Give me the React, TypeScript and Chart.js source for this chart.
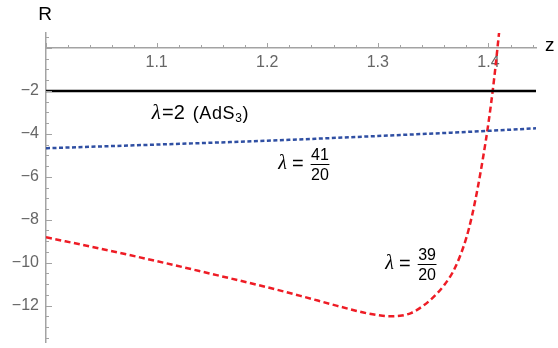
import React, { useEffect, useRef } from "react";
import { Chart, registerables } from "chart.js";
Chart.register(...registerables);

// ---- data ----
const zAdS = [1.0, 1.443];
const rAdS = [-2, -2];

const zBlue = [1.0, 1.1, 1.2, 1.3, 1.4, 1.443];
const rBlue = [-4.67, -4.5, -4.32, -4.1, -3.86, -3.74];

const zRed = [1.0, 1.05, 1.1, 1.15, 1.2, 1.23, 1.26, 1.28, 1.29, 1.3, 1.31, 1.32, 1.33, 1.34, 1.35, 1.36, 1.37, 1.38, 1.385, 1.39, 1.395, 1.4, 1.405, 1.41];
const rRed = [-8.82, -9.36, -9.93, -10.53, -11.15, -11.55, -11.97, -12.24, -12.36, -12.45, -12.5, -12.48, -12.35, -12.05, -11.62, -11.05, -10.22, -8.85, -7.85, -6.6, -5.15, -3.5, -1.5, 0.9];

const xTickValues = [1.1, 1.2, 1.3, 1.4];
const xTickLabels = ["1.1", "1.2", "1.3", "1.4"];
const yTickValues = [-12, -10, -8, -6, -4, -2];
const yTickLabels = ["\u221212", "\u221210", "\u22128", "\u22126", "\u22124", "\u22122"];

const zMin = 1.0;
const zMax = 1.443;
const rMin = -13.7;
const rMax = 0.7;

const labelAdS = { z: 1.0957, r: -3.03 };
const label41 = { z: 1.21, r: -5.41, num: "41", den: "20" };
const label39 = { z: 1.3068, r: -10.07, num: "39", den: "20" };

const toPts = (xs: number[], ys: number[]) => xs.map((x, i) => ({ x, y: ys[i] }));

const AXIS_COLOR = "#a3a3a3";
const LABEL_COLOR = "#666666";
const SANS = "'Liberation Sans', Arial, Helvetica, sans-serif";

const decorPlugin = {
  id: "decor",
  afterDraw(chart: any) {
    const { ctx, scales, chartArea } = chart;
    const xs = scales.x;
    const ys = scales.y;
    const y0 = ys.getPixelForValue(0);
    const xl = chartArea.left;
    ctx.save();
    ctx.strokeStyle = AXIS_COLOR;
    ctx.lineWidth = 1;
    // x ticks (upward)
    for (let i = 0; i <= 22; i++) {
      const v = zMin + i * 0.02;
      if (v > zMax + 1e-9) break;
      const px = Math.round(xs.getPixelForValue(v)) + 0.5;
      const len = i % 5 === 0 ? 5 : 3;
      ctx.beginPath();
      ctx.moveTo(px, y0);
      ctx.lineTo(px, y0 - len);
      ctx.stroke();
    }
    // y ticks (rightward)
    for (let k = -27; k <= 1; k++) {
      const v = k * 0.5;
      const py = Math.round(ys.getPixelForValue(v)) + 0.5;
      const len = k % 4 === 0 ? 6 : 3;
      ctx.beginPath();
      ctx.moveTo(xl, py);
      ctx.lineTo(xl + len, py);
      ctx.stroke();
    }
    // axis titles
    ctx.fillStyle = "#000";
    ctx.font = "19px " + SANS;
    ctx.textAlign = "center";
    ctx.textBaseline = "middle";
    ctx.fillText("R", xl - 1, 15);
    ctx.textAlign = "left";
    ctx.fillText("z", chartArea.right + 9, y0 - 2);

    // label lambda=2 (AdS3)
    let x = xs.getPixelForValue(labelAdS.z);
    let y = ys.getPixelForValue(labelAdS.r);
    ctx.textAlign = "left";
    ctx.font = "italic 21px 'Liberation Serif', serif";
    ctx.fillText("\u03bb", x, y);
    x += ctx.measureText("\u03bb").width + 1;
    ctx.font = "20px " + SANS;
    ctx.fillText("=2", x, y);
    x += ctx.measureText("=2").width + 8;
    ctx.font = "18px " + SANS;
    try { (ctx as any).letterSpacing = "0.6px"; } catch (e) {}
    ctx.fillText("(AdS", x, y + 1);
    x += ctx.measureText("(AdS").width;
    ctx.font = "12px " + SANS;
    ctx.fillText("3", x, y + 6);
    x += ctx.measureText("3").width;
    ctx.font = "18px " + SANS;
    ctx.fillText(")", x, y + 1);
    try { (ctx as any).letterSpacing = "0px"; } catch (e) {}

    const drawFrac = (lab: any) => {
      let fx = xs.getPixelForValue(lab.z);
      const fy = ys.getPixelForValue(lab.r);
      ctx.fillStyle = "#000";
      ctx.textAlign = "left";
      ctx.font = "italic 20px 'Liberation Serif', serif";
      ctx.fillText("\u03bb", fx, fy);
      fx += ctx.measureText("\u03bb").width + 5;
      ctx.font = "20px " + SANS;
      ctx.fillText("=", fx, fy);
      fx += ctx.measureText("=").width + 7;
      ctx.font = "16px " + SANS;
      const w = Math.max(ctx.measureText(lab.num).width, ctx.measureText(lab.den).width) + 1;
      const cx = fx + w / 2;
      ctx.textAlign = "center";
      ctx.fillText(lab.num, cx, fy - 9);
      ctx.fillText(lab.den, cx, fy + 11);
      ctx.strokeStyle = "#000";
      ctx.lineWidth = 1;
      ctx.beginPath();
      ctx.moveTo(fx, Math.round(fy) + 0.5);
      ctx.lineTo(fx + w, Math.round(fy) + 0.5);
      ctx.stroke();
    };
    drawFrac(label41);
    drawFrac(label39);
    ctx.restore();
  },
};

export default function App() {
  const ref = useRef<HTMLCanvasElement | null>(null);
  useEffect(() => {
    if (!ref.current) return;
    const chart = new Chart(ref.current, {
      type: "line",
      data: {
        datasets: [
          {
            data: toPts(zAdS, rAdS),
            borderColor: "#000000",
            borderWidth: 2.5,
            pointRadius: 0,
            tension: 0,
          },
          {
            data: toPts(zBlue, rBlue),
            borderColor: "#2f4fa3",
            borderWidth: 2.5,
            borderDash: [4, 2.5],
            pointRadius: 0,
            cubicInterpolationMode: "monotone",
          },
          {
            data: toPts(zRed, rRed),
            borderColor: "#ee1c25",
            borderWidth: 2.5,
            borderDash: [6, 3.5],
            pointRadius: 0,
            cubicInterpolationMode: "monotone",
          },
        ],
      },
      options: {
        responsive: false,
        animation: false,
        events: [],
        layout: { padding: { top: 33, right: 22, bottom: 6, left: 0 } },
        plugins: { legend: { display: false }, tooltip: { enabled: false }, title: { display: false } },
        scales: {
          x: {
            type: "linear",
            min: zMin,
            max: zMax,
            position: { y: 0 } as any,
            afterFit: (s: any) => {
              s.height = 0;
              s.paddingLeft = 0;
              s.paddingRight = 0;
              s.paddingTop = 0;
              s.paddingBottom = 0;
            },
            afterBuildTicks: (s: any) => {
              s.ticks = xTickValues.map((v) => ({ value: v }));
            },
            ticks: {
              color: LABEL_COLOR,
              font: { family: SANS, size: 16 },
              padding: 5,
              maxRotation: 0,
              autoSkip: false,
              callback: (v: any) => {
                const i = xTickValues.findIndex((t) => Math.abs(t - v) < 1e-6);
                return i >= 0 ? xTickLabels[i] : "";
              },
            },
            grid: { display: true, drawOnChartArea: false, drawTicks: false },
            border: { display: true, color: AXIS_COLOR, width: 1.5 },
          },
          y: {
            type: "linear",
            min: rMin,
            max: rMax,
            position: "left",
            afterFit: (s: any) => {
              s.width = 46;
              s.paddingTop = 0;
              s.paddingBottom = 0;
            },
            afterBuildTicks: (s: any) => {
              s.ticks = yTickValues.map((v) => ({ value: v }));
            },
            ticks: {
              color: LABEL_COLOR,
              font: { family: SANS, size: 16 },
              padding: 7,
              autoSkip: false,
              callback: (v: any) => {
                const i = yTickValues.findIndex((t) => Math.abs(t - v) < 1e-6);
                return i >= 0 ? yTickLabels[i] : "";
              },
            },
            grid: { display: true, drawOnChartArea: false, drawTicks: false },
            border: { display: true, color: AXIS_COLOR, width: 1.5 },
          },
        },
      },
      plugins: [decorPlugin],
    });
    return () => chart.destroy();
  }, []);
  return (
    <div style={{ position: "absolute", left: 0, top: 0, width: 558, height: 348, background: "#fff" }}>
      <canvas ref={ref} width={558} height={348} />
    </div>
  );
}
